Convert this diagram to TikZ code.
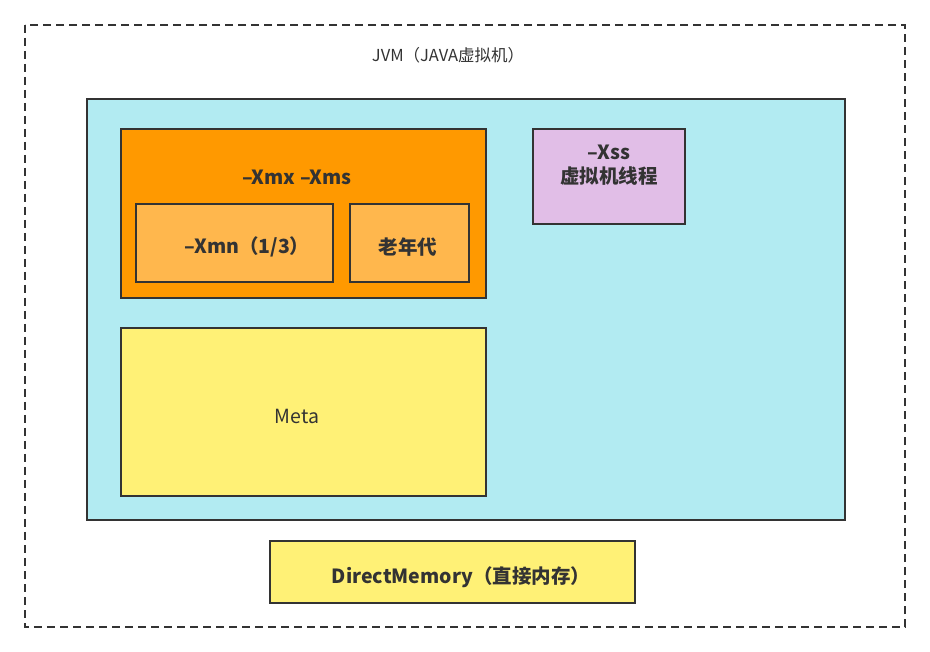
\documentclass[tikz,border=0pt]{standalone}
\usepackage{fontspec}
\setmainfont{Noto Sans CJK SC}
\usepackage{tikz}
\usetikzlibrary{positioning}
\definecolor{jvmcyan}{HTML}{B2EBF2}
\definecolor{heaporange}{HTML}{FF9900}
\definecolor{younglight}{HTML}{FFB74D}
\definecolor{stackpurple}{HTML}{E1BEE7}
\definecolor{metayellow}{HTML}{FFF176}
\definecolor{edgegray}{HTML}{333333}
\begin{document}
\begin{tikzpicture}[x=1pt,y=-1pt]
		
		\tikzset{%
			area/.style     = {draw=edgegray, line width=1.6pt, rectangle, inner sep=0pt},
			lbl/.style      = {font=\fontsize{19.5}{24}\selectfont, text=edgegray}, % normale Schrift
			blbl/.style     = {font=\fontsize{19.5}{24.5}\selectfont\bfseries, text=edgegray, align=center} % fette Schrift
		}
	
		\useasboundingbox (0,0) rectangle (930,652);
		\fill[white] (0,0) rectangle (930,652);
		
		% JVM Rahmen
		\draw[edgegray, line width=1.3pt, dash pattern=on 8pt off 5pt] (25,25) rectangle (905,627);
		\node[lbl, font=\fontsize{16.5}{18}\selectfont] (jvm) at (448,55) {JVM（JAVA虚拟机）};
		
		\node[area, fill=jvmcyan, minimum width=758pt, minimum height=421pt] (cyan) at (466,309.5) {};
		
		% Heap
		\node[area, fill=heaporange, minimum width=365pt, minimum height=169pt] (heap) at (303.5,213.5) {};
		\node[blbl] (xmx) at (297,177) {–Xmx –Xms};
		\node[area, fill=younglight, minimum width=197pt, minimum height=78pt] (young) at (234.5,243) {};
		\node[blbl] (xmn) at (247,247) {–Xmn（1/3）};
		\node[area, fill=younglight, minimum width=119pt, minimum height=78pt] (old) at (409.5,243) {};
		\node[blbl] (oldtxt) at (408,247) {老年代};
		
		% Stack
		\node[area, fill=stackpurple, minimum width=152pt, minimum height=95pt] (xss) at (609,176.5) {};
		\node[blbl] (xsstxt) at (609,165) {–Xss\\虚拟机线程};
		
		% Meta
		\node[area, fill=metayellow, minimum width=365pt, minimum height=168pt] (meta) at (303.5,412) {};
		\node[lbl] (metatxt) at (297,416) {Meta};
		
		% Direktspeicher
		\node[area, fill=metayellow, minimum width=365pt, minimum height=62pt] (direct) at (452.5,572) {};
		\node[blbl] (directtxt) at (461,577) {DirectMemory（直接内存）};
		\end{tikzpicture}
\end{document}
